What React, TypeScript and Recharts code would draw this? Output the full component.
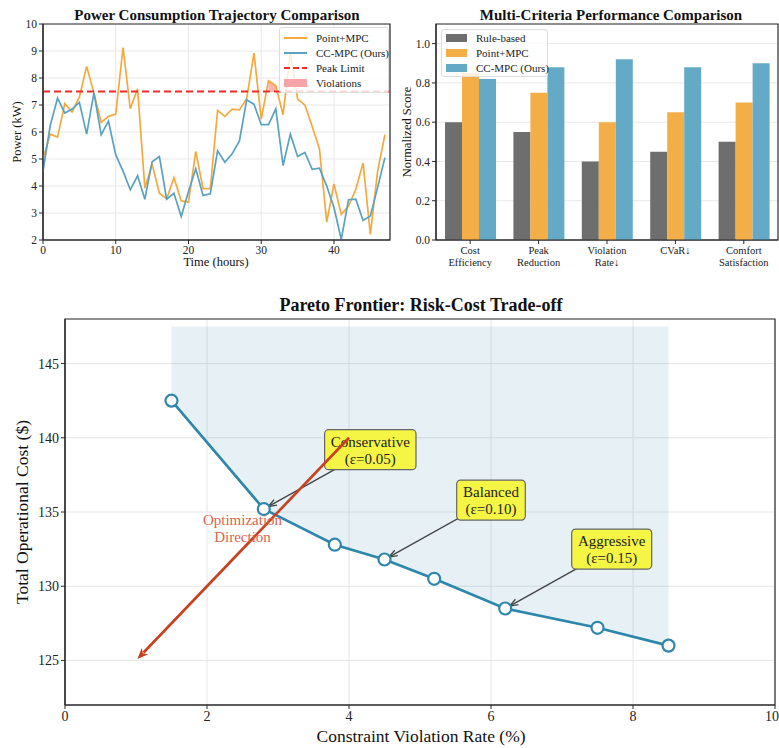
import React from 'react';
import {
  ComposedChart, Line, Area, XAxis, YAxis, CartesianGrid, ReferenceLine, ReferenceDot, ReferenceArea, BarChart, Bar,
} from 'recharts';

const SERIF = '"Liberation Serif", "Times New Roman", serif';

// --- Power trajectories (kW per hour) ---
const pointMPC = [5.0, 5.92, 5.81, 7.05, 6.74, 7.3, 8.43, 7.45, 6.35, 6.58, 6.66, 9.13, 6.86, 7.6, 3.92, 4.81, 3.73, 3.52, 4.31, 3.45, 3.4, 5.28, 3.9, 3.9, 6.8, 6.58, 6.85, 6.82, 7.23, 8.92, 6.48, 7.9, 7.71, 6.64, 8.9, 7.22, 7.0, 6.2, 5.38, 2.66, 4.08, 2.95, 3.26, 3.88, 4.85, 2.21, 4.55, 5.9];
const ccMPC = [4.55, 6.25, 7.25, 6.7, 6.85, 7.1, 5.92, 7.45, 5.9, 6.4, 5.15, 4.55, 3.86, 4.38, 3.51, 4.9, 5.09, 3.51, 3.73, 2.87, 3.8, 4.64, 3.65, 3.71, 5.3, 4.88, 5.19, 5.67, 7.19, 7.03, 6.27, 6.27, 6.86, 4.76, 5.92, 5.09, 5.24, 4.62, 4.66, 4.0, 3.2, 2.02, 3.49, 3.51, 2.72, 2.89, 3.95, 5.05];
const peakLimit = 7.5;
const hourTicks = [0, 10, 20, 30, 40];
const powerTicks = [2, 3, 4, 5, 6, 7, 8, 9, 10];

// --- Multi-criteria scores ---
const criteria = ['Cost\nEfficiency', 'Peak\nReduction', 'Violation\nRate↓', 'CVaR↓', 'Comfort\nSatisfaction'];
const ruleBased = [0.6, 0.55, 0.4, 0.45, 0.5];
const pointScores = [0.85, 0.75, 0.6, 0.65, 0.7];
const ccScores = [0.82, 0.88, 0.92, 0.88, 0.9];
const scoreTicks = [0, 0.2, 0.4, 0.6, 0.8, 1.0];

// --- Pareto frontier ---
const violationRate = [1.5, 2.8, 3.8, 4.5, 5.2, 6.2, 7.5, 8.5];
const opCost = [142.5, 135.2, 132.8, 131.8, 130.5, 128.5, 127.2, 126.0];
const shadeTop = 147.5;
const callouts = [
  { idx: 1, title: 'Conservative', eps: '(ε=0.05)' },
  { idx: 3, title: 'Balanced', eps: '(ε=0.10)' },
  { idx: 5, title: 'Aggressive', eps: '(ε=0.15)' },
];
const rateTicks = [0, 2, 4, 6, 8, 10];
const costTicks = [125, 130, 135, 140, 145];

const ORANGE = '#F4A93F';
const BLUE = '#5AA2C0';
const RED = '#EE2A2A';
const GRAY = '#6E6E6E';
const BAR_ORANGE = '#F4AE48';
const BAR_BLUE = '#64AAC6';
const DARK_BLUE = '#2E86AB';
const ARROW_RED = '#C9401F';
const SPINE = '#2a2a2a';

const powerData = pointMPC.map((p, i) => ({
  hour: i,
  point: p,
  cc: ccMPC[i],
  viol: p > peakLimit ? [peakLimit, p] : null,
}));
const scoreData = criteria.map((c, i) => ({ cat: c, rule: ruleBased[i], point: pointScores[i], cc: ccScores[i] }));
const paretoData = violationRate.map((r, i) => ({ rate: r, cost: opCost[i], band: [opCost[i], shadeTop] }));

const Txt = ({ x, y, size, bold, rotate, color, children }: any) => (
  <div
    style={{
      position: 'absolute', left: x, top: y, fontSize: size, fontWeight: bold ? 'bold' : 'normal',
      fontFamily: SERIF, color: color || '#111', whiteSpace: 'pre', lineHeight: 1.1, textAlign: 'center',
      transform: `translate(-50%, -50%)${rotate ? ' rotate(-90deg)' : ''}`,
    }}
  >
    {children}
  </div>
);

const tickSmall = { fontSize: 11.5, fill: '#222', fontFamily: SERIF };
const tickBig = { fontSize: 14, fill: '#222', fontFamily: SERIF };
const axisLine = { stroke: SPINE, strokeWidth: 1.2 };
const tickLine = { stroke: SPINE, strokeWidth: 1 };

const CatTick = (props: any) => {
  const { x, y, payload } = props;
  const lines = String(payload.value).split('\n');
  return (
    <text x={x} y={y + 8} textAnchor="middle" fontSize={10.5} fill="#222" fontFamily={SERIF}>
      {lines.map((l, i) => (
        <tspan key={i} x={x} dy={i === 0 ? 0 : 11.5}>{l}</tspan>
      ))}
    </text>
  );
};

const calloutShape = (title: string, eps: string) => (props: any) => {
  const { x1, y1, x2, y2 } = props;
  const dx = x2 - x1;
  const dy = y2 - y1;
  const len = Math.hypot(dx, dy);
  const ux = dx / len;
  const uy = dy / len;
  const tx = x2 - ux * 5;
  const ty = y2 - uy * 5;
  const head = 9;
  const a = 0.35;
  const p1 = [tx - head * (ux * Math.cos(a) - uy * Math.sin(a)), ty - head * (ux * Math.sin(a) + uy * Math.cos(a))];
  const p2 = [tx - head * (ux * Math.cos(-a) - uy * Math.sin(-a)), ty - head * (ux * Math.sin(-a) + uy * Math.cos(-a))];
  const w = title.length * 5.7 + 23;
  const h = 40;
  return (
    <g>
      <line x1={x1} y1={y1} x2={tx} y2={ty} stroke="#444" strokeWidth={1.3} />
      <path d={`M${p1[0]},${p1[1]} L${tx},${ty} L${p2[0]},${p2[1]}`} fill="none" stroke="#444" strokeWidth={1.3} />
      <rect x={x1 - w / 2} y={y1 - h / 2} width={w} height={h} rx={4} fill="#F5F545" stroke="#666" strokeWidth={1.2} />
      <text x={x1} y={y1 - 3} textAnchor="middle" fontSize={15} fill="#222" fontFamily={SERIF}>{title}</text>
      <text x={x1} y={y1 + 14} textAnchor="middle" fontSize={15} fill="#222" fontFamily={SERIF}>{eps}</text>
    </g>
  );
};

const redArrowShape = (props: any) => {
  const { x1, y1, x2, y2 } = props;
  const dx = x2 - x1;
  const dy = y2 - y1;
  const len = Math.hypot(dx, dy);
  const ux = dx / len;
  const uy = dy / len;
  const tx = x2 - ux * 2;
  const ty = y2 - uy * 2;
  const head = 11;
  const half = 4.5;
  const bx = tx - ux * head;
  const by = ty - uy * head;
  return (
    <g>
      <line x1={x1} y1={y1} x2={bx + ux * 2} y2={by + uy * 2} stroke={ARROW_RED} strokeWidth={2.6} />
      <path d={`M${tx},${ty} L${bx - uy * half},${by + ux * half} L${bx + ux * 3},${by + uy * 3} L${bx + uy * half},${by - ux * half} Z`} fill={ARROW_RED} />
    </g>
  );
};

const dirLabel = (props: any) => {
  const { cx, cy } = props;
  return (
    <text x={cx} y={cy} textAnchor="middle" fontSize={15} fill="#D9654E" fontFamily={SERIF}>
      <tspan x={cx} dy={-2}>Optimization</tspan>
      <tspan x={cx} dy={17}>Direction</tspan>
    </text>
  );
};

const legend1 = [
  { name: 'Point+MPC', color: ORANGE, kind: 'line' },
  { name: 'CC-MPC (Ours)', color: BLUE, kind: 'line' },
  { name: 'Peak Limit', color: RED, kind: 'dash' },
  { name: 'Violations', color: '#F7A3AA', kind: 'patch' },
];
const legend2 = [
  { name: 'Rule-based', color: GRAY },
  { name: 'Point+MPC', color: BAR_ORANGE },
  { name: 'CC-MPC (Ours)', color: BAR_BLUE },
];

// box around the plot area (matplotlib-style spines); x spans the full range when x1/x2 are omitted
const frame = (lo: number, hi: number) => (
  <ReferenceArea y1={lo} y2={hi} fill="none" fillOpacity={0} stroke={SPINE} strokeWidth={1.2} ifOverflow="visible" />
);

export default function App() {
  return (
    <div style={{ position: 'absolute', left: 0, top: 0, width: 779, height: 748, background: '#fff', fontFamily: SERIF, overflow: 'hidden' }}>
      {/* Top-left: power trajectories */}
      <div style={{ position: 'absolute', left: 0, top: 0 }}>
        <ComposedChart width={392} height={262} data={powerData} margin={{ top: 24, right: 2, bottom: 0, left: 0 }}>
          <CartesianGrid stroke="#e8e8e8" strokeWidth={1} />
          <XAxis dataKey="hour" type="number" domain={[0, 47.7]} ticks={hourTicks} allowDataOverflow tick={tickSmall} tickSize={4} height={22} axisLine={axisLine} tickLine={tickLine} />
          <YAxis type="number" domain={[2, 10]} ticks={powerTicks} allowDataOverflow tick={tickSmall} tickSize={4} width={43} axisLine={axisLine} tickLine={tickLine} />
          <Area dataKey="viol" type="linear" stroke="#FF0000" strokeOpacity={0.25} strokeWidth={0.8} fill="#FF0000" fillOpacity={0.3} isAnimationActive={false} />
          <Line dataKey="point" type="linear" stroke={ORANGE} strokeWidth={1.7} dot={false} isAnimationActive={false} />
          <Line dataKey="cc" type="linear" stroke={BLUE} strokeWidth={1.7} dot={false} isAnimationActive={false} />
          <ReferenceLine y={peakLimit} stroke={RED} strokeWidth={1.8} strokeDasharray="7 4" />
          {frame(2, 10)}
        </ComposedChart>
      </div>
      <Txt x={217} y={15} size={15} bold>Power Consumption Trajectory Comparison</Txt>
      <Txt x={18} y={132} size={12.5} rotate>Power (kW)</Txt>
      <Txt x={216} y={263} size={12.5}>Time (hours)</Txt>
      <div style={{ position: 'absolute', left: 279, top: 27, width: 108, height: 64, background: 'rgba(255,255,255,0.8)', border: '1px solid #ddd', borderRadius: 3 }}>
        {legend1.map((e, i) => (
          <div key={e.name} style={{ position: 'absolute', left: 4, top: 3 + i * 15, height: 14, display: 'flex', alignItems: 'center', fontSize: 11, fontFamily: SERIF, color: '#222', whiteSpace: 'nowrap' }}>
            <svg width={24} height={10} style={{ marginRight: 8 }}>
              {e.kind === 'line' && <line x1={0} y1={5} x2={23} y2={5} stroke={e.color} strokeWidth={2} />}
              {e.kind === 'dash' && <line x1={0} y1={5} x2={23} y2={5} stroke={e.color} strokeWidth={2} strokeDasharray="6 3" />}
              {e.kind === 'patch' && <rect x={0} y={1} width={23} height={8} fill={e.color} />}
            </svg>
            {e.name}
          </div>
        ))}
      </div>

      {/* Top-right: multi-criteria bars */}
      <div style={{ position: 'absolute', left: 392, top: 0 }}>
        <BarChart width={387} height={275} data={scoreData} margin={{ top: 24, right: 1, bottom: 0, left: 0 }} barCategoryGap={9} barGap={0}>
          <CartesianGrid stroke="#e8e8e8" vertical={false} />
          <XAxis dataKey="cat" tick={<CatTick />} tickSize={4} height={35} axisLine={axisLine} tickLine={tickLine} interval={0} />
          <YAxis type="number" domain={[0, 1.1]} ticks={scoreTicks} tick={tickSmall} tickSize={4} width={44} axisLine={axisLine} tickLine={tickLine} tickFormatter={(v: number) => v.toFixed(1)} />
          <Bar dataKey="rule" fill={GRAY} isAnimationActive={false} />
          <Bar dataKey="point" fill={BAR_ORANGE} isAnimationActive={false} />
          <Bar dataKey="cc" fill={BAR_BLUE} isAnimationActive={false} />
          {frame(0, 1.1)}
        </BarChart>
      </div>
      <Txt x={611} y={15} size={15} bold>Multi-Criteria Performance Comparison</Txt>
      <Txt x={408} y={132} size={12.5} rotate>Normalized Score</Txt>
      <div style={{ position: 'absolute', left: 441, top: 29, width: 105, height: 46, background: 'rgba(255,255,255,0.8)', border: '1px solid #ddd', borderRadius: 3 }}>
        {legend2.map((e, i) => (
          <div key={e.name} style={{ position: 'absolute', left: 4, top: 1 + i * 15, height: 14, display: 'flex', alignItems: 'center', fontSize: 11, fontFamily: SERIF, color: '#222', whiteSpace: 'nowrap' }}>
            <svg width={21} height={8} style={{ marginRight: 9 }}>
              <rect x={0} y={0} width={21} height={8} fill={e.color} />
            </svg>
            {e.name}
          </div>
        ))}
      </div>

      {/* Bottom: Pareto frontier */}
      <div style={{ position: 'absolute', left: 0, top: 300 }}>
        <ComposedChart width={779} height={448} data={paretoData} margin={{ top: 19, right: 4, bottom: 0, left: 0 }}>
          <CartesianGrid stroke="#e6e6e6" />
          <XAxis dataKey="rate" type="number" domain={[0, 10]} ticks={rateTicks} allowDataOverflow tick={tickBig} tickSize={4} height={43} axisLine={axisLine} tickLine={tickLine} />
          <YAxis type="number" domain={[122, 148]} ticks={costTicks} allowDataOverflow tick={tickBig} tickSize={4} width={65} axisLine={axisLine} tickLine={tickLine} />
          <Area dataKey="band" type="linear" stroke="none" fill={DARK_BLUE} fillOpacity={0.12} isAnimationActive={false} />
          <Line
            dataKey="cost"
            type="linear"
            stroke={DARK_BLUE}
            strokeWidth={2.6}
            dot={{ r: 6, fill: '#fff', stroke: DARK_BLUE, strokeWidth: 2.2 }}
            isAnimationActive={false}
          />
          {callouts.map((c) => (
            <ReferenceLine
              key={c.title}
              segment={[
                { x: violationRate[c.idx] + 1.5, y: opCost[c.idx] + 4 },
                { x: violationRate[c.idx], y: opCost[c.idx] },
              ]}
              shape={calloutShape(c.title, c.eps)}
            />
          ))}
          <ReferenceDot x={2.5} y={134} r={0} shape={dirLabel} />
          <ReferenceLine segment={[{ x: 4, y: 140 }, { x: 1, y: 125 }]} shape={redArrowShape} />
          {frame(122, 148)}
        </ComposedChart>
      </div>
      <Txt x={421} y={306} size={18} bold>Pareto Frontier: Risk-Cost Trade-off</Txt>
      <Txt x={23} y={512} size={17.5} rotate>Total Operational Cost ($)</Txt>
      <Txt x={421} y={737} size={17.5}>Constraint Violation Rate (%)</Txt>
    </div>
  );
}
